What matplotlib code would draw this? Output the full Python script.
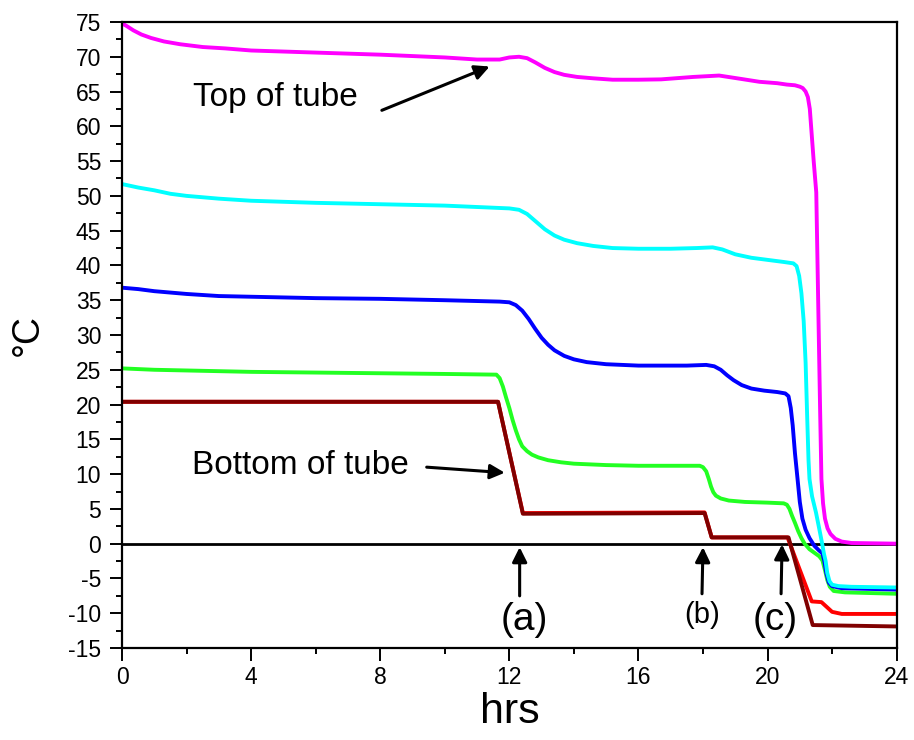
import matplotlib
matplotlib.use('Agg')
import matplotlib.pyplot as plt
from matplotlib.ticker import MultipleLocator

plt.rcParams['font.family'] = ['Liberation Sans', 'DejaVu Sans']
plt.rcParams['axes.unicode_minus'] = False

# temperature logs along the tube, hrs vs degC
top_t = [0, 0.15, 0.35, 0.6, 0.9, 1.3, 1.8, 2.5, 3.2, 4, 6, 8, 10, 11, 11.7, 12.0, 12.3, 12.55,
         12.8, 13.1, 13.4, 13.7, 14.1, 14.6, 15.2, 16, 16.7, 17.7, 18.5, 19.2, 19.75, 20.3, 20.6,
         20.85, 21.0, 21.09, 21.18, 21.25, 21.31, 21.35, 21.43, 21.51, 21.55, 21.59, 21.63, 21.67,
         21.72, 21.78, 21.86, 21.95, 22.1, 22.3, 22.6, 24]
top_v = [74.8, 74.4, 73.8, 73.2, 72.7, 72.2, 71.8, 71.4, 71.2, 70.9, 70.6, 70.3, 69.9, 69.6, 69.6,
         69.9, 70.0, 69.8, 69.2, 68.4, 67.8, 67.4, 67.1, 66.9, 66.7, 66.7, 66.75, 67.1, 67.3, 66.8,
         66.4, 66.2, 66.0, 65.9, 65.7, 65.5, 65.0, 64.2, 62.5, 60.0, 55.0, 50.5, 40.0, 29.4, 19.0,
         9.3, 5.8, 3.6, 2.2, 1.4, 0.7, 0.3, 0.1, 0.0]

cyan_t = [0, 0.5, 1, 1.5, 2, 3, 4, 6, 8, 10, 11.5, 12.0, 12.3, 12.55, 12.8, 13.1, 13.4, 13.7,
          14.1, 14.6, 15.2, 16, 17, 17.8, 18.3, 18.6, 19.0, 19.5, 20, 20.5, 20.8, 20.9, 20.98,
          21.05, 21.12, 21.18, 21.23, 21.27, 21.3, 21.38, 21.5, 21.6, 21.68, 21.75, 21.8, 21.85,
          21.92, 22.0, 22.2, 22.6, 24]
cyan_v = [51.7, 51.2, 50.8, 50.3, 50.0, 49.6, 49.3, 49.0, 48.8, 48.6, 48.3, 48.2, 48.0, 47.4, 46.4,
          45.2, 44.3, 43.7, 43.2, 42.8, 42.5, 42.4, 42.4, 42.5, 42.6, 42.3, 41.6, 41.1, 40.8, 40.5,
          40.3, 39.9, 38.5, 36.0, 32.0, 26.0, 18.0, 12.0, 9.3, 6.8, 4.5, 2.2, 0.3, -1.5, -2.5,
          -4.2, -5.4, -5.9, -6.1, -6.2, -6.3]

blue_t = [0, 0.5, 1, 2, 3, 4, 6, 8, 10, 11.7, 12.0, 12.2, 12.4, 12.6, 12.8, 13.0, 13.2, 13.4,
          13.7, 14.0, 14.4, 15, 16, 17.5, 18.1, 18.35, 18.55, 18.75, 18.95, 19.2, 19.5, 19.9, 20.3,
          20.55, 20.65, 20.72, 20.78, 20.85, 20.93, 21.0, 21.08, 21.18, 21.3, 21.45, 21.6, 21.7,
          21.76, 21.82, 21.9, 22.0, 22.3, 24]
blue_v = [36.8, 36.6, 36.3, 35.9, 35.6, 35.5, 35.3, 35.2, 35.0, 34.8, 34.7, 34.3, 33.5, 32.3, 30.9,
          29.6, 28.6, 27.8, 27.0, 26.5, 26.1, 25.8, 25.6, 25.6, 25.7, 25.5, 25.0, 24.2, 23.5, 22.8,
          22.3, 22.0, 21.8, 21.6, 21.2, 19.5, 17.0, 13.0, 9.3, 6.0, 3.6, 2.0, 0.8, -0.3, -1.0,
          -1.4, -2.5, -4.2, -5.6, -6.1, -6.4, -6.6]

green_t = [0, 1, 2, 4, 6, 8, 10, 11.6, 11.7, 11.8, 11.9, 12.0, 12.1, 12.2, 12.3, 12.4, 12.55,
           12.7, 12.9, 13.2, 13.6, 14, 15, 16, 17.9, 18.0, 18.1, 18.18, 18.25, 18.32, 18.4, 18.55,
           18.8, 19.3, 20, 20.5, 20.6, 20.68, 20.76, 20.85, 20.95, 21.05, 21.15, 21.3, 21.45, 21.6,
           21.7, 21.78, 21.85, 21.93, 22.05, 22.4, 24]
green_v = [25.2, 25.0, 24.9, 24.7, 24.6, 24.5, 24.4, 24.3, 23.8, 22.6, 21.0, 19.5, 17.8, 16.3, 15.0,
           14.0, 13.3, 12.8, 12.4, 12.0, 11.7, 11.5, 11.3, 11.2, 11.2, 11.0, 10.4, 9.3, 8.2, 7.4,
           6.9, 6.5, 6.2, 6.0, 5.9, 5.8, 5.6, 5.0, 4.0, 3.0, 1.8, 0.8, 0.0, -0.8, -1.3, -1.8, -2.4,
           -3.8, -5.2, -6.2, -6.8, -7.0, -7.2]

red_t = [0, 11.65, 12.42, 18.05, 18.27, 20.62, 21.37, 21.67, 22.0, 22.3, 24]
red_v = [20.4, 20.4, 4.4, 4.5, 0.9, 0.9, -8.3, -8.4, -9.8, -10.1, -10.1]

dkred_t = [0, 11.65, 12.42, 18.05, 18.27, 20.65, 21.4, 24]
dkred_v = [20.4, 20.4, 4.3, 4.4, 0.9, 0.9, -11.7, -11.9]

fig = plt.figure(figsize=(9.14, 7.4), dpi=100)
ax = fig.add_axes([0.1335, 0.1243, 0.8475, 0.8460])

lw = 2.8
ax.axhline(0, color='black', lw=2.0, zorder=1)
ax.plot(red_t, red_v, color='#ff0000', lw=lw)
ax.plot(dkred_t, dkred_v, color='#800000', lw=lw)
ax.plot(green_t, green_v, color='#22ff22', lw=lw)
ax.plot(blue_t, blue_v, color='#0000ff', lw=lw)
ax.plot(cyan_t, cyan_v, color='#00ffff', lw=lw)
ax.plot(top_t, top_v, color='#ff00ff', lw=lw)

ax.set_xlim(0, 24)
ax.set_ylim(-15, 75)
ax.xaxis.set_major_locator(MultipleLocator(4))
ax.xaxis.set_minor_locator(MultipleLocator(2))
ax.yaxis.set_major_locator(MultipleLocator(5))
ax.yaxis.set_minor_locator(MultipleLocator(2.5))
ax.tick_params(which='major', direction='out', length=9, width=1.4, labelsize=16.5, pad=4)
ax.tick_params(which='minor', direction='out', length=4.5, width=1.4)
ax.tick_params(axis='y', which='major', pad=6)
for s in ax.spines.values():
    s.set_linewidth(1.6)

ax.set_xlabel('hrs', fontsize=31, labelpad=2)
ax.set_ylabel('°C', fontsize=27, labelpad=16)

arr = dict(arrowstyle='-|>', color='black', lw=2.2, mutation_scale=22, shrinkA=0, shrinkB=0)
ax.annotate('', xy=(11.39, 68.6), xytext=(8.05, 62.3), arrowprops=arr)
ax.text(2.2, 64.2, 'Top of tube', fontsize=24, ha='left', va='center')
ax.annotate('', xy=(11.86, 10.2), xytext=(9.44, 11.0), arrowprops=arr)
ax.text(2.17, 11.2, 'Bottom of tube', fontsize=24, ha='left', va='center')

ax.annotate('', xy=(12.32, -0.5), xytext=(12.32, -7.5), arrowprops=arr)
ax.text(12.45, -11.0, '(a)', fontsize=28, ha='center', va='center')
ax.annotate('', xy=(18.0, -0.5), xytext=(17.97, -7.2), arrowprops=arr)
ax.text(17.96, -10.3, '(b)', fontsize=21, ha='center', va='center')
ax.annotate('', xy=(20.45, -0.1), xytext=(20.42, -7.2), arrowprops=arr)
ax.text(20.25, -11.0, '(c)', fontsize=28, ha='center', va='center')

fig.savefig('out.png', dpi=100)
